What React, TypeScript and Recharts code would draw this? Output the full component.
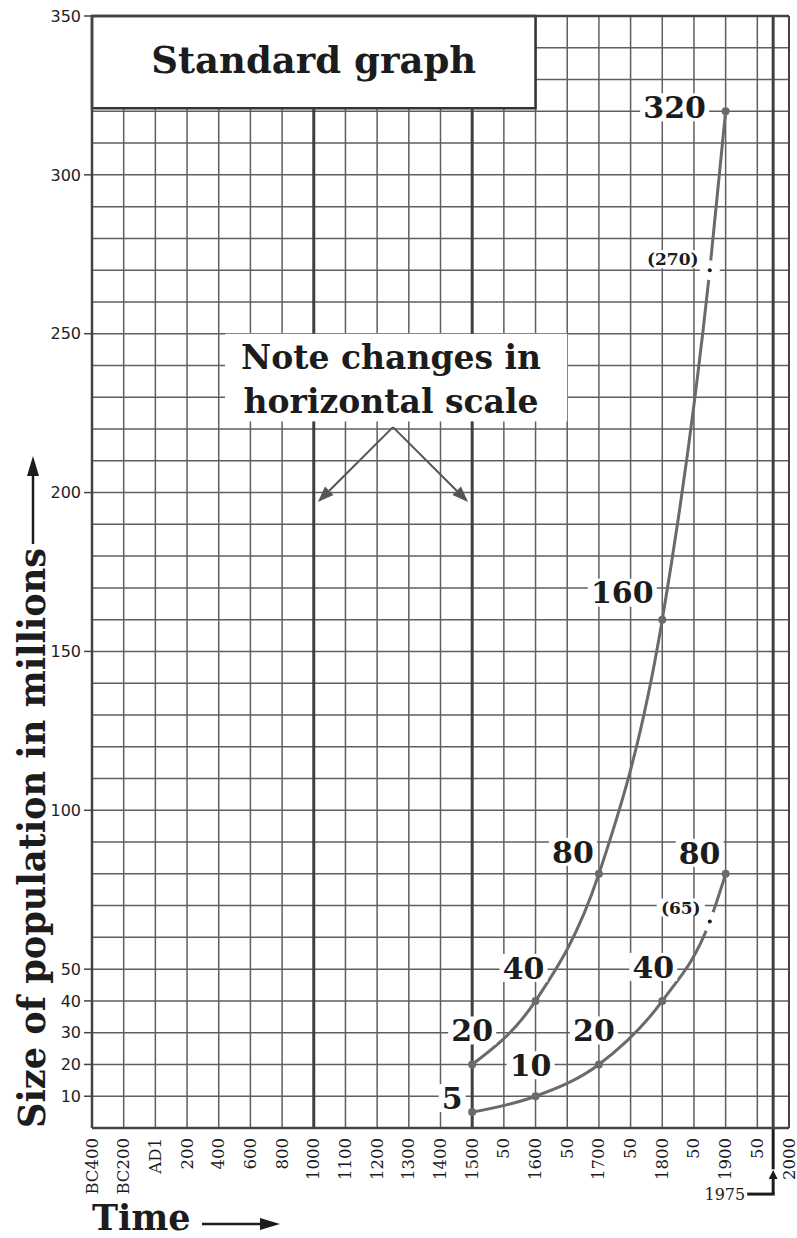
import { ComposedChart, Line, XAxis, YAxis, CartesianGrid, ReferenceLine, ReferenceArea, LabelList } from 'recharts'

// The horizontal scale changes: every tick is one grid column
const TICK_YEARS = [-400, -200, 1, 200, 400, 600, 800, 1000, 1100, 1200, 1300, 1400, 1500, 1550, 1600, 1650, 1700, 1750, 1800, 1850, 1900, 1950, 2000]
const TICK_LABELS = ['BC400', 'BC200', 'AD1', '200', '400', '600', '800', '1000', '1100', '1200', '1300', '1400', '1500', '50', '1600', '50', '1700', '50', '1800', '50', '1900', '50', '2000']
const Y_TICKS = [10, 20, 30, 40, 50, 100, 150, 200, 250, 300, 350]

const YEARS = [1500, 1600, 1700, 1800, 1875, 1900]
const UPPER = [20, 40, 80, 160, 270, 320]
const LOWER = [5, 10, 20, 40, 65, 80]
const ESTIMATED = [false, false, false, false, true, false]

const W = 797
const H = 1238
const INK = '#1c1c1c'
const GRID = '#5f5f5f'
const CURVE = '#6a6a6a'
const SERIF = '"DejaVu Serif", serif'

// boxes drawn over the grid (value ranges on the y axis)
const TITLE_BOX = { x1: 0, x2: 14, y1: 321, y2: 350 }
const NOTE_BOX = { x1: 4.2, x2: 15, y1: 222.4, y2: 250 }

// year -> column position on the piecewise axis
const yearToCol = (year: number) => {
  for (let i = 0; i < TICK_YEARS.length - 1; i++) {
    const a = TICK_YEARS[i]
    const b = TICK_YEARS[i + 1]
    if (year >= a && year <= b) return i + (year - a) / (b - a)
  }
  return TICK_YEARS.length - 1
}

const upperData = YEARS.map((y, i) => ({ x: yearToCol(y), v: UPPER[i] }))
const lowerData = YEARS.map((y, i) => ({ x: yearToCol(y), v: LOWER[i] }))

const COLS = TICK_LABELS.map((_, i) => i)
const ROWS = Array.from({ length: 36 }, (_, i) => i * 10)

// label placement around each point (dx, dy from the point)
const UPPER_OFFSETS = [[0, -34], [-12, -33], [-26, -22], [-40, -27], [-37, -11], [-51, -4]]
const LOWER_OFFSETS = [[-20, -14], [-5, -31], [-5, -34], [-9, -34], [-29, -14], [-26, -21]]

const makeLabel = (offsets: number[][]) => (p: any) => {
  const { x, y, value, index } = p
  const [dx, dy] = offsets[index]
  const small = ESTIMATED[index]
  const text = small ? `(${value})` : String(value)
  const fs = small ? 17 : 30
  const w = text.length * fs * (small ? 0.62 : 0.7) + 6
  const h = small ? 18 : 28
  const cx = x + dx
  const cy = y + dy
  return (
    <g>
      <rect x={cx - w / 2} y={cy - h / 2} width={w} height={h} fill="#fff" />
      <text x={cx} y={cy + fs * 0.36} textAnchor="middle" fontFamily={SERIF} fontWeight="bold" fontSize={fs} fill={INK}>
        {text}
      </text>
    </g>
  )
}

const renderDot = (p: any) => {
  const { cx, cy, index } = p
  if (ESTIMATED[index]) {
    return (
      <g key={`d${index}`}>
        <circle cx={cx} cy={cy} r={10} fill="#fff" />
        <circle cx={cx} cy={cy} r={2} fill={INK} />
      </g>
    )
  }
  return <circle key={`d${index}`} cx={cx} cy={cy} r={4} fill={CURVE} />
}

const arrow = (head: number, width: number, color: string, sw: number) => (p: any) => {
  const { x1, y1, x2, y2 } = p
  const a = Math.atan2(y2 - y1, x2 - x1)
  const bx = x2 - head * Math.cos(a)
  const by = y2 - head * Math.sin(a)
  const nx = (-Math.sin(a) * width) / 2
  const ny = (Math.cos(a) * width) / 2
  return (
    <g>
      <line x1={x1} y1={y1} x2={bx} y2={by} stroke={color} strokeWidth={sw} />
      <polygon points={`${x2},${y2} ${bx + nx},${by + ny} ${bx - nx},${by - ny}`} fill={color} />
    </g>
  )
}

const year1975 = (p: any) => {
  const { x1, y1, x2, y2 } = p
  return (
    <g>
      <line x1={x1} y1={y1} x2={x2 + 1.5} y2={y2} stroke={INK} strokeWidth={3} />
      <text x={x1 - 2} y={y1 + 6} textAnchor="end" fontFamily={SERIF} fontSize={16} fill={INK}>1975</text>
    </g>
  )
}

const XTick = (p: any) => {
  const { x, y, payload } = p
  const ty = y + 8
  return (
    <text x={x} y={ty} transform={`rotate(-90, ${x}, ${ty})`} textAnchor="end" dominantBaseline="central" fontFamily={SERIF} fontSize={16.5} fill={INK}>
      {TICK_LABELS[payload.value]}
    </text>
  )
}

const YTitle = () => (
  <g>
    <text transform="translate(45, 1128) rotate(-90)" fontFamily={SERIF} fontWeight="bold" fontSize={38} fill={INK} textLength={580} lengthAdjust="spacingAndGlyphs">
      Size of population in millions
    </text>
    <line x1={33} y1={544} x2={33} y2={474} stroke={INK} strokeWidth={2.5} />
    <polygon points="33,456 27,476 39,476" fill={INK} />
  </g>
)

const XTitle = () => (
  <g>
    <text x={92} y={1230} fontFamily={SERIF} fontWeight="bold" fontSize={35} fill={INK}>Time</text>
    <line x1={202} y1={1224} x2={262} y2={1224} stroke={INK} strokeWidth={2.5} />
    <polygon points="280,1224 260,1218 260,1230" fill={INK} />
  </g>
)

const TitleLabel = (p: any) => {
  const { x, y, width, height } = p.viewBox
  return (
    <text x={x + width / 2} y={y + height / 2 + 11} textAnchor="middle" fontFamily={SERIF} fontWeight="bold" fontSize={37} fill={INK}>
      Standard graph
    </text>
  )
}

const NoteLabel = (p: any) => {
  const { x, y } = p.viewBox
  return (
    <g>
      <text x={x + 166} y={y + 35} textAnchor="middle" fontFamily={SERIF} fontWeight="bold" fontSize={33} fill={INK}>Note changes in</text>
      <text x={x + 166} y={y + 79} textAnchor="middle" fontFamily={SERIF} fontWeight="bold" fontSize={33} fill={INK}>horizontal scale</text>
    </g>
  )
}

// thick scale-break lines, kept out of the two boxes
const breakSegments = (col: number) => {
  const under = col >= NOTE_BOX.x1 && col <= NOTE_BOX.x2
  const undertitle = col <= TITLE_BOX.x2
  const top = undertitle ? TITLE_BOX.y1 : 350
  if (under) {
    return [
      [0, NOTE_BOX.y1],
      [NOTE_BOX.y2, top],
    ]
  }
  return [[0, top]]
}

export default function App() {
  const breaks = [1000, 1500, 1975].map(yearToCol)
  return (
    <div style={{ position: 'absolute', left: 0, top: 0, background: '#fff' }}>
      <ComposedChart width={W} height={H} margin={{ top: 16, right: 8, bottom: 50, left: 0 }}>
        <CartesianGrid horizontalValues={ROWS} verticalValues={COLS} stroke={GRID} strokeWidth={1.5} />
        <XAxis
          type="number"
          dataKey="x"
          domain={[0, 22]}
          ticks={COLS}
          interval={0}
          allowDataOverflow
          height={60}
          tickLine={false}
          tickSize={0}
          tick={<XTick />}
          axisLine={{ stroke: '#444', strokeWidth: 2.5 }}
          label={{ content: <XTitle /> }}
        />
        <YAxis
          type="number"
          domain={[0, 350]}
          ticks={Y_TICKS}
          interval={0}
          allowDataOverflow
          width={92}
          tickSize={8}
          tickMargin={3}
          tickLine={{ stroke: '#444', strokeWidth: 1.5 }}
          axisLine={{ stroke: '#444', strokeWidth: 2.5 }}
          tick={{ fontFamily: '"DejaVu Sans", sans-serif', fontSize: 16, fill: '#222' }}
          label={{ content: <YTitle /> }}
        />
        <ReferenceLine y={350} stroke="#444" strokeWidth={2.5} />
        <ReferenceLine x={22} stroke="#444" strokeWidth={2} />
        {breaks.flatMap((col) =>
          breakSegments(col).map(([a, b]) => (
            <ReferenceLine key={`${col}-${a}`} segment={[{ x: col, y: a }, { x: col, y: b }]} stroke="#404040" strokeWidth={3} />
          ))
        )}
        <ReferenceLine
          ifOverflow="visible"
          segment={[{ x: yearToCol(1975), y: 0 }, { x: yearToCol(1975), y: -13 }]}
          stroke={INK}
          strokeWidth={3}
        />
        <ReferenceLine
          ifOverflow="visible"
          segment={[{ x: yearToCol(1975), y: -20.8 }, { x: yearToCol(1975), y: -13.2 }]}
          shape={arrow(9, 9, INK, 3)}
        />
        <ReferenceLine
          ifOverflow="visible"
          segment={[{ x: 20.68, y: -20.8 }, { x: yearToCol(1975), y: -20.8 }]}
          shape={year1975}
        />
        <ReferenceArea {...TITLE_BOX} fill="#fff" fillOpacity={1} stroke="#333" strokeWidth={2.5} label={{ content: <TitleLabel /> }} />
        <ReferenceArea {...NOTE_BOX} fill="#fff" fillOpacity={1} stroke="none" label={{ content: <NoteLabel /> }} />
        <ReferenceLine ifOverflow="visible" segment={[{ x: 9.5, y: 220.6 }, { x: 7.13, y: 197 }]} shape={arrow(16, 12, '#555', 2)} />
        <ReferenceLine ifOverflow="visible" segment={[{ x: 9.5, y: 220.6 }, { x: 11.87, y: 197 }]} shape={arrow(16, 12, '#555', 2)} />
        <Line data={upperData} dataKey="v" type="monotone" stroke={CURVE} strokeWidth={3} dot={renderDot} activeDot={false} isAnimationActive={false}>
          <LabelList dataKey="v" content={makeLabel(UPPER_OFFSETS)} />
        </Line>
        <Line data={lowerData} dataKey="v" type="monotone" stroke={CURVE} strokeWidth={3} dot={renderDot} activeDot={false} isAnimationActive={false}>
          <LabelList dataKey="v" content={makeLabel(LOWER_OFFSETS)} />
        </Line>
      </ComposedChart>
    </div>
  )
}
